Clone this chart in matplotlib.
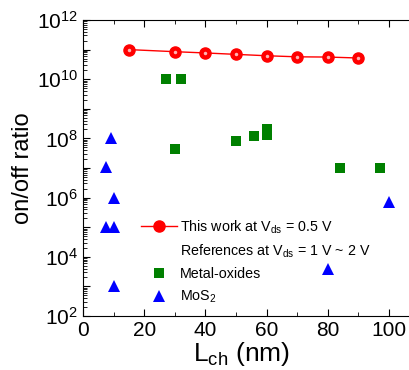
import matplotlib
matplotlib.use('Agg')
import matplotlib.pyplot as plt
import matplotlib.ticker as ticker
from matplotlib.lines import Line2D
import math

plt.rcParams['font.family'] = ['Liberation Sans', 'DejaVu Sans']
plt.rcParams['mathtext.fontset'] = 'custom'
plt.rcParams['mathtext.rm'] = 'Liberation Sans'
plt.rcParams['mathtext.it'] = 'Liberation Sans:italic'

# this work
work_L = [15, 30, 40, 50, 60, 70, 80, 90]
work_ratio = [1.0e11, 8.5e10, 7.7e10, 6.9e10, 6.2e10, 5.7e10, 5.6e10, 5.2e10]

# metal oxides
mo_L = [27, 32, 30, 50, 56, 60, 60, 84, 97]
mo_ratio = [1e10, 1e10, 4.3e7, 8e7, 1.2e8, 2e8, 1.3e8, 1e7, 1e7]

# MoS2
mos_L = [9, 7.5, 10, 7.5, 10, 10, 80, 100]
mos_ratio = [1e8, 1.1e7, 1e6, 1e5, 1e5, 1e3, 3.9e3, 6.9e5]

fig = plt.figure(figsize=(4.1, 3.7), dpi=100)
ax = fig.add_axes([83/410, 54/370, 336.6/410, 296/370])

line_work, = ax.plot(work_L, work_ratio, '-o', color='red', lw=1,
                     marker='o', markersize=8, markerfacecolor='red',
                     markeredgecolor='red')
ax.plot(work_L, work_ratio, 'o', color='white', markersize=2.5, alpha=0.7,
        markeredgewidth=0)
ax.plot(mo_L, mo_ratio, 's', color='green', markersize=7, markeredgewidth=0)
ax.plot(mos_L, mos_ratio, '^', color='blue', markersize=9, markeredgewidth=0)

ax.set_yscale('log')
ax.set_ylim(1e2, 1e12)
ax.set_xlim(0, 110)

ax.yaxis.set_major_locator(ticker.LogLocator(base=10, numticks=20))
ax.yaxis.set_minor_locator(ticker.LogLocator(base=10, subs=range(2, 10), numticks=20))


def fmt(v, pos):
    e = int(round(math.log10(v)))
    if e % 2 == 0:
        return '$10^{%d}$' % e
    return ''


ax.yaxis.set_major_formatter(ticker.FuncFormatter(fmt))
ax.xaxis.set_major_locator(ticker.MultipleLocator(20))
ax.xaxis.set_minor_locator(ticker.MultipleLocator(10))
ax.xaxis.set_major_formatter(ticker.FuncFormatter(lambda v, p: '%d' % v))

ax.tick_params(which='both', direction='in', top=True, right=False, labelsize=15)
ax.tick_params(which='major', length=5)
ax.tick_params(which='minor', length=3)
ax.spines['right'].set_visible(False)

ax.set_ylabel('on/off ratio', fontsize=17, labelpad=2)
# the reference crops this label at the bottom; keep it just inside the figure
ax.set_xlabel('L$_{\\rm ch}$ (nm)', fontsize=19)
ax.xaxis.set_label_coords(0.47, -0.082)

blank = Line2D([], [], linestyle='none')
sq = Line2D([], [], marker='s', color='green', linestyle='none', markersize=7, markeredgewidth=0)
tri = Line2D([], [], marker='^', color='blue', linestyle='none', markersize=9, markeredgewidth=0)
leg = ax.legend([line_work, blank, sq, tri],
                ['This work at V$_{\\rm ds}$ = 0.5 V',
                 'References at V$_{\\rm ds}$ = 1 V ~ 2 V',
                 'Metal-oxides', 'MoS$_2$'],
                loc='upper left', bbox_to_anchor=(0.172, 0.33),
                frameon=False, fontsize=10.3, handlelength=2.5,
                handletextpad=0.2, labelspacing=0.5, borderpad=0,
                borderaxespad=0)

fig.savefig('out.png', dpi=100)
